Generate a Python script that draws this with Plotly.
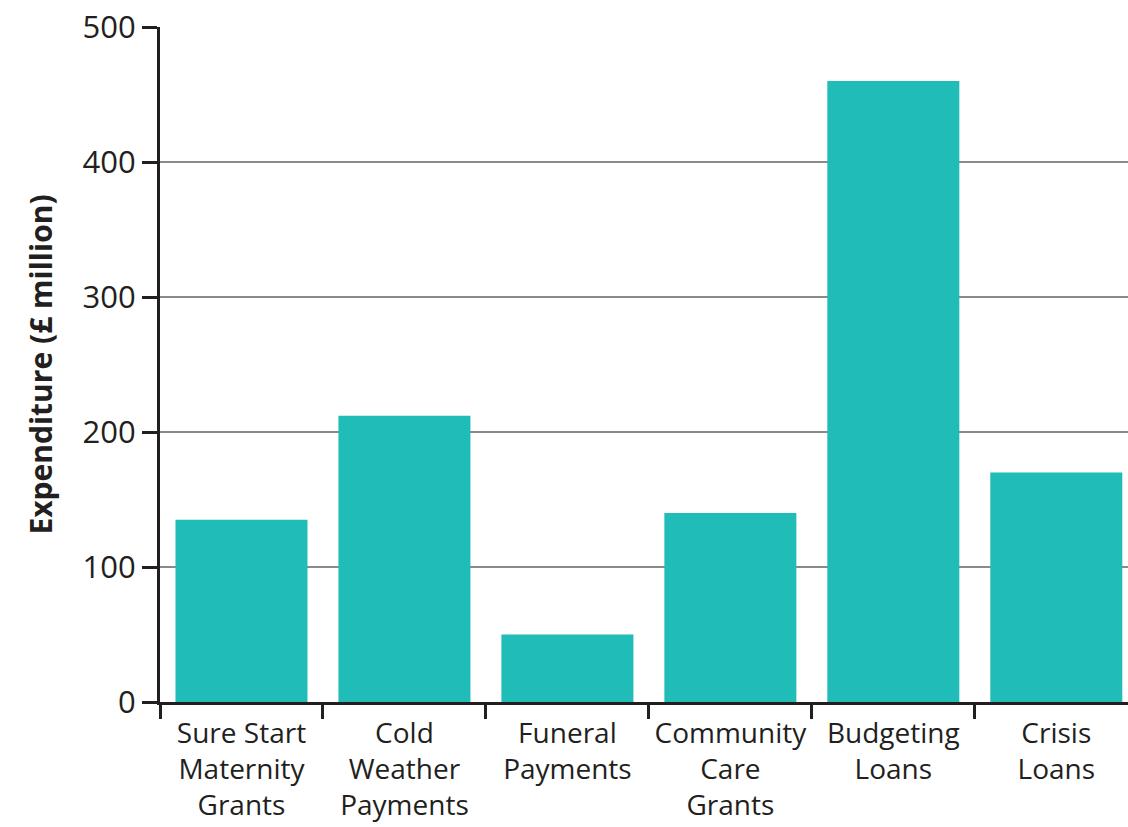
import plotly.graph_objects as go

categories = ["Sure Start<br>Maternity<br>Grants", "Cold<br>Weather<br>Payments", "Funeral<br>Payments",
              "Community<br>Care<br>Grants", "Budgeting<br>Loans", "Crisis<br>Loans"]
expenditure = [135, 212, 50, 140, 460, 170]
y_ticks = [0, 100, 200, 300, 400, 500]

TEXT = "#231f20"
FONT = "Open Sans"

fig = go.Figure(go.Bar(x=categories, y=expenditure, marker_color="#1fbcb8",
                       marker_line_width=0, width=0.81))

fig.update_layout(
    width=1128, height=827,
    margin=dict(l=160, r=0, t=27, b=125),
    plot_bgcolor="white", paper_bgcolor="white",
    showlegend=False,
    font=dict(family=FONT, color=TEXT, size=28),
)
fig.update_xaxes(
    range=[-0.5, 5.44], automargin=False, tickangle=0,
    showline=True, linecolor=TEXT, linewidth=3,
    ticks="outside", tickson="boundaries", ticklen=14, tickwidth=3, tickcolor=TEXT,
    ticklabelstandoff=4,
    tickfont=dict(size=28, family=FONT, color=TEXT), showgrid=False,
)
fig.update_yaxes(
    range=[0, 500], automargin=False, tickvals=y_ticks,
    showline=True, linecolor=TEXT, linewidth=3,
    ticks="outside", ticklen=15, tickwidth=3, tickcolor=TEXT,
    showgrid=True, gridcolor="#8a8a8a", gridwidth=1.5, zeroline=False,
    tickfont=dict(size=31, family=FONT, color=TEXT),
    title=dict(text="<b>Expenditure (£ million)</b>", font=dict(size=30, family=FONT, color=TEXT), standoff=22),
)
fig.write_html("out.html", config={"displayModeBar": False},
               post_script="document.body.style.margin='0';document.body.style.overflow='hidden';")
